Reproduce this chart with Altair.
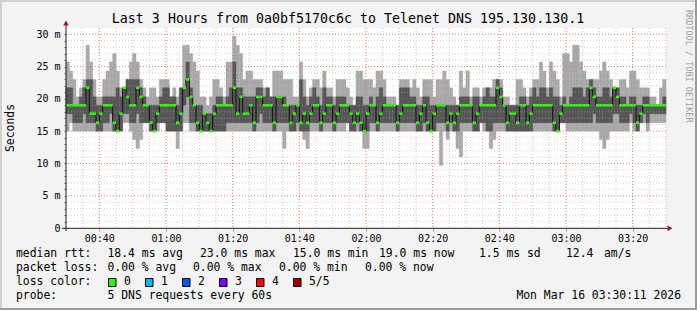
import altair as alt
import pandas as pd

FONT = "DejaVu Sans Mono"
TITLE = "Last 3 Hours from 0a0bf5170c6c to Telenet DNS 195.130.130.1"
Y_TITLE = "Seconds"
SIDE_TEXT = "RRDTOOL / TOBI OETIKER"

# RTT values are quantized by the DNS timer: level -> milliseconds
LEVEL_MS = {-4: 9.7, -3: 11.0, -2: 12.3, -1: 13.7, 0: 15.0, 1: 16.3, 2: 17.7,
            3: 19.0, 4: 20.3, 5: 21.7, 6: 23.0, 7: 24.3, 8: 25.7, 9: 27.0,
            10: 28.3, 11: 29.7}

# one column per minute starting 00:30 (180 minutes)
MAX_LVL = [8,7,6,4,5,6,10,8,6,4, 4,6,7,8,9,7,5,5,6,8, 9,8,6,5,4,5,5,4,6,6,
           6,4,5,4,5,10,10,9,8,7, 4,4,3,4,6,6,5,4,8,8, 11,10,9,6,7,7,6,6,6,5,
           5,4,7,7,7,6,6,6,4,4, 8,6,4,5,6,6,5,7,5,5, 4,6,6,6,5,4,3,7,7,6,
           6,6,5,7,7,6,4,4,4,3, 6,6,6,5,6,5,4,6,6,6, 4,6,6,7,6,5,4,3,7,5,
           7,4,5,5,4,5,5,5,6,6, 6,4,4,3,3,6,6,5,4,5, 6,6,8,7,5,8,7,6,4,9,
           9,8,10,10,8,7,6,6,6,6, 7,8,7,6,5,5,6,6,5,7, 7,6,5,5,5,4,4,3,5,6]
P4_LVL = [5,5,3,3,4,5,6,6,4,3, 3,4,4,4,4,5,4,5,6,6, 6,6,5,4,3,3,3,3,4,5,
          5,4,4,3,5,5,8,5,3,3, 3,2,2,2,3,4,4,3,4,5, 8,5,5,4,4,4,4,5,5,4,
          5,4,4,4,4,4,3,3,3,3, 6,4,3,4,5,4,3,5,4,4, 3,4,4,4,3,3,3,4,4,3,
          3,4,3,4,5,4,3,3,3,3, 5,5,5,4,4,3,3,4,4,3, 3,3,3,3,3,3,3,3,4,4,
          4,3,4,4,3,4,5,4,4,6, 5,3,3,3,3,3,4,4,3,4, 5,4,5,5,4,5,4,4,3,4,
          3,4,5,5,5,4,5,6,5,4, 4,5,5,4,5,5,4,4,3,4, 4,3,3,4,4,3,3,3,3,4]
MED_LVL = [3,3,3,3,3,3,5,2,2,1, 2,3,3,3,1,0,2,5,4,3, 3,5,4,3,3,1,0,2,3,3,
           3,3,3,1,2,5,6,4,3,1, 0,2,1,0,2,3,3,3,3,3, 5,2,4,2,2,3,1,4,4,3,
           3,3,1,4,4,3,3,1,2,3, 1,2,1,2,3,3,1,2,3,3, 1,2,3,3,3,2,1,2,1,0,
           2,3,3,1,2,3,3,3,3,1, 2,3,3,3,3,1,2,3,1,0, 2,3,3,3,1,2,1,2,3,3,
           3,3,1,2,3,3,3,3,3,5, 4,3,1,2,2,1,3,3,1,2, 3,3,3,3,3,3,1,0,2,3,
           3,3,3,3,3,3,3,5,4,3, 3,3,3,3,5,4,3,3,3,3, 3,1,2,3,3,3,3,3,3,3]
P2_LVL = [2,2,1,1,1,2,1,1,1,0, 0,1,1,2,0,0,0,2,2,1, 1,2,1,1,1,0,0,1,1,1,
          0,0,0,0,0,3,4,1,1,0, 0,0,0,0,0,0,0,0,1,1, 1,1,1,1,1,1,0,1,2,1,
          1,1,0,1,1,1,1,0,0,1, 0,0,0,1,1,1,0,1,1,1, 0,1,1,1,1,0,0,1,0,0,
          0,1,1,0,1,1,1,1,1,0, 1,1,1,1,1,0,0,1,0,0, 0,1,1,1,0,1,0,0,1,1,
          1,1,0,0,1,1,0,0,1,1, 1,1,0,0,0,0,0,0,0,0, 1,1,1,1,1,1,0,0,1,1,
          1,1,1,1,1,1,1,1,2,1, 1,1,1,1,2,2,1,1,1,2, 1,0,1,2,1,2,2,2,2,2]
MIN_LVL = [0,1,0,0,0,0,0,0,0,0, 0,0,0,0,0,0,0,1,1,0, -1,-2,-1,1,1,0,0,0,1,1,
           0,0,0,-2,0,1,1,0,0,0, 0,0,0,0,0,0,0,0,0,0, 0,0,0,0,0,0,0,0,0,0,
           0,0,0,0,0,-2,0,0,0,0, 0,-1,-2,0,0,0,0,0,0,0, 0,0,0,0,1,0,0,0,0,-2,
           -2,0,0,0,0,0,0,0,0,0, 0,0,0,0,0,0,0,0,0,0, 0,0,-4,0,-1,0,0,-2,-3,0,
           0,0,0,0,1,0,0,-2,-1,0, 0,0,0,0,0,0,0,0,0,0, 0,0,0,0,0,0,0,0,1,1,
           0,0,0,0,0,0,0,0,0,0, -1,-2,-1,0,0,0,0,0,0,1, 0,0,1,1,0,1,1,1,1,1]

X_TICK_MIN = [10, 30, 50, 70, 90, 110, 130, 150, 170]
X_TICK_LABELS = ["00:40", "01:00", "01:20", "01:40", "02:00", "02:20", "02:40", "03:00", "03:20"]

LEGEND_RTT = [("median rtt:", 16), ("18.4 ms avg", 107.5), ("23.0 ms max", 200),
              ("15.0 ms min", 293), ("19.0 ms now", 379), ("1.5 ms sd", 479),
              ("12.4", 566), ("am/s", 604)]
LEGEND_LOSS = [("packet loss:", 16), ("0.00 % avg", 107.5), ("0.00 % max", 193),
               ("0.00 % min", 279), ("0.00 % now", 365)]
LOSS_LABELS = ["0", "1", "2", "3", "4", "5/5"]
LOSS_COLORS = ["#26ff00", "#00b8ff", "#0059ff", "#7e00ff", "#ff0000", "#a10000"]
PROBE_TEXT = "5 DNS requests every 60s"
DATE_TEXT = "Mon Mar 16 03:30:11 2026"

N = len(MED_LVL)
df = pd.DataFrame({
    "i": list(range(N)),
    "mx": [LEVEL_MS[k] for k in MAX_LVL],
    "p4": [LEVEL_MS[k] for k in P4_LVL],
    "med": [LEVEL_MS[k] for k in MED_LVL],
    "p2": [LEVEL_MS[k] for k in P2_LVL],
    "mn": [LEVEL_MS[k] for k in MIN_LVL],
})
df["i1"] = df["i"] + 1
df["prev"] = df["med"].shift(1)
df["mlo"] = df["med"] - 0.2
df["mhi"] = df["med"] + 0.2
conn = df.dropna(subset=["prev"])
conn = conn[conn["prev"] != conn["med"]]

YMAX = 30.96
xs = alt.Scale(domain=[0, 180], nice=False, zero=False)
ys = alt.Scale(domain=[0, YMAX], nice=False)

label_map = "{" + ",".join(f"'{m}':'{l}'" for m, l in zip(X_TICK_MIN, X_TICK_LABELS)) + "}"
x_axis = alt.Axis(values=X_TICK_MIN, labelExpr=f"{label_map}[datum.value]", grid=False,
                  domain=False, tickSize=3, tickColor="#e08888", labelFont=FONT,
                  labelFontSize=10, labelColor="black", labelPadding=2, title=None)
y_axis = alt.Axis(values=list(range(0, 31)),
                  labelExpr="datum.value % 5 == 0 ? (datum.value == 0 ? '0\u00a0\u00a0' : datum.value + ' m') : ''",
                  grid=False, domain=False, tickSize=2, tickColor="#666666", labelFont=FONT,
                  labelFontSize=10, labelColor="black", labelPadding=4, title=None)

XQ = lambda f: alt.X(f, scale=xs, axis=x_axis)
YQ = lambda f: alt.Y(f, scale=ys, axis=y_axis)

h_minor = [v for v in range(1, 31) if v % 5]
h_major = [v for v in range(5, 31, 5)]
v_major = X_TICK_MIN
v_minor = [m for m in range(5, 181, 5) if m not in v_major]

g1 = alt.Chart(pd.DataFrame({"v": h_minor})).mark_rule(color="#c4c4c4", strokeDash=[1, 2], strokeWidth=1).encode(
    y=YQ("v:Q"))
g2 = alt.Chart(pd.DataFrame({"v": v_minor})).mark_rule(color="#c4c4c4", strokeDash=[1, 2], strokeWidth=1).encode(
    x=XQ("v:Q"))
g3 = alt.Chart(pd.DataFrame({"v": h_major})).mark_rule(color="#f08a8a", strokeDash=[1, 2], strokeWidth=1).encode(
    y=YQ("v:Q"))
g4 = alt.Chart(pd.DataFrame({"v": v_major})).mark_rule(color="#f08a8a", strokeDash=[1, 2], strokeWidth=1).encode(
    x=XQ("v:Q"))

light = alt.Chart(df).mark_rect(color="#a8a8a8", stroke="#a8a8a8", strokeWidth=0.5).encode(
    x=XQ("i:Q"), x2="i1:Q", y=YQ("mn:Q"), y2="mx:Q")
dark = alt.Chart(df).mark_rect(color="#565656", stroke="#565656", strokeWidth=0.5).encode(
    x=XQ("i:Q"), x2="i1:Q", y=YQ("p2:Q"), y2="p4:Q")

# faint grid over the bands, as in the reference
g1o = alt.Chart(pd.DataFrame({"v": h_minor})).mark_rule(color="#ffffff", opacity=0.25, strokeDash=[1, 2], strokeWidth=1).encode(
    y=YQ("v:Q"))
g3o = alt.Chart(pd.DataFrame({"v": h_major})).mark_rule(color="#ff6060", opacity=0.35, strokeDash=[1, 2], strokeWidth=1).encode(
    y=YQ("v:Q"))
g4o = alt.Chart(pd.DataFrame({"v": v_major})).mark_rule(color="#ff6060", opacity=0.35, strokeDash=[1, 2], strokeWidth=1).encode(
    x=XQ("v:Q"))

connectors = alt.Chart(conn).mark_rule(color="#101010", strokeWidth=1).encode(
    x=XQ("i:Q"), y=YQ("prev:Q"), y2="med:Q")
green = alt.Chart(df).mark_rect(color=LOSS_COLORS[0]).encode(
    x=XQ("i:Q"), x2="i1:Q", y=YQ("mlo:Q"), y2="mhi:Q")

ONE = pd.DataFrame({"a": [0]})
OX, OY = 66, 28


def txt(s, x, y, size=11.4, align="left", angle=0, color="black"):
    return alt.Chart(ONE).mark_text(text=s, align=align, baseline="middle", angle=angle,
                                    font=FONT, fontSize=size, color=color).encode(
        x=alt.value(x - OX), y=alt.value(y - OY))


def line(x1, y1, x2, y2, color, w=1):
    return alt.Chart(ONE).mark_rule(color=color, strokeWidth=w).encode(
        x=alt.value(x1 - OX), x2=alt.value(x2 - OX), y=alt.value(y1 - OY), y2=alt.value(y2 - OY))


def arrow(x, y, shape):
    return alt.Chart(ONE).mark_point(shape=shape, filled=True, size=32, color="#9b1c1c", opacity=1).encode(
        x=alt.value(x - OX), y=alt.value(y - OY))


layers = [g1, g2, g3, g4, light, dark, g1o, g3o, g4o, connectors, green,
          line(66, 231, 66, 24, "#202020"), line(62, 228.3, 668, 228.3, "#202020"),
          arrow(66, 23, "triangle-up"), arrow(670, 228.3, "triangle-right"),
          # frame
          line(0, 1, 697, 1, "#d0d0d0", 2), line(1, 0, 1, 310, "#d0d0d0", 2),
          line(0, 309, 697, 309, "#9c9c9c", 2), line(696, 0, 696, 310, "#9c9c9c", 2),
          txt(TITLE, 348, 19, size=13.3, align="center"),
          txt(Y_TITLE, 11, 128, angle=270, align="center"),
          txt(SIDE_TEXT, 689, 10, size=8.5, angle=90, color="#a0a0a0")]
for s, x in LEGEND_RTT:
    layers.append(txt(s, x, 254.3))
for s, x in LEGEND_LOSS:
    layers.append(txt(s, x, 268.3))
layers.append(txt("loss color:", 16, 282.3))
for j, (lab, col) in enumerate(zip(LOSS_LABELS, LOSS_COLORS)):
    bx = 108.5 + 37 * j
    layers.append(alt.Chart(ONE).mark_rect(color=col, stroke="black", strokeWidth=1).encode(
        x=alt.value(bx - OX), x2=alt.value(bx + 7.5 - OX),
        y=alt.value(278.5 - OY), y2=alt.value(286.5 - OY)))
    layers.append(txt(lab, bx + 15.5, 282.3))
layers.append(txt("probe:", 16, 296.2))
layers.append(txt(PROBE_TEXT, 107.5, 296.2))
layers.append(txt(DATE_TEXT, 681, 296.2, align="right"))

chart = alt.layer(*layers).properties(
    width=600, height=200, background="#f3f3f3",
    padding={"left": 66, "top": 28, "right": 31, "bottom": 82},
    autosize=alt.AutoSizeParams(type="none"),
).configure_view(fill="white", strokeWidth=0)

chart.save("out.html", embed_options={"renderer": "svg", "actions": False})
